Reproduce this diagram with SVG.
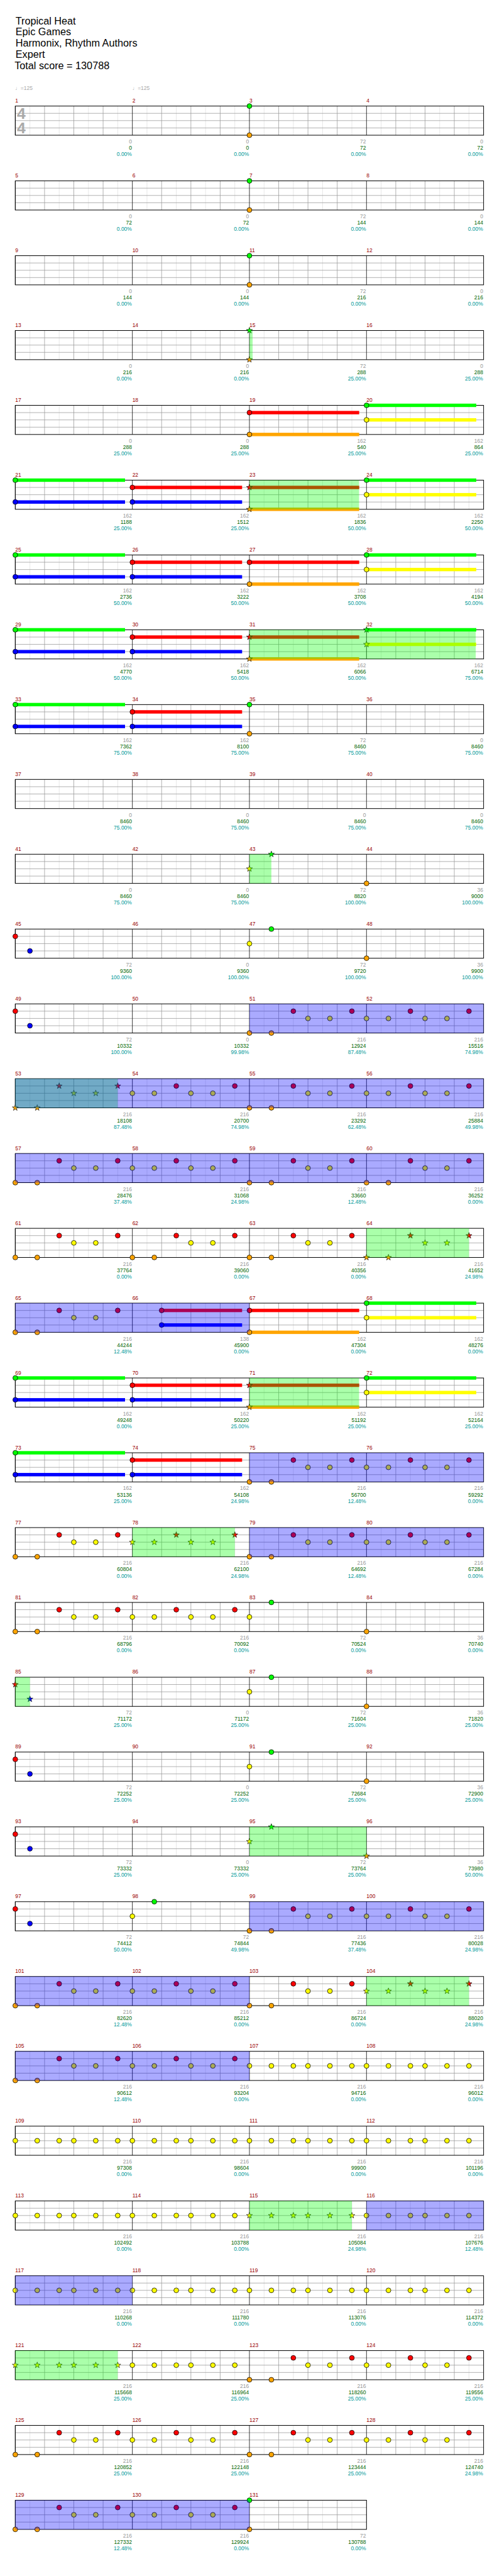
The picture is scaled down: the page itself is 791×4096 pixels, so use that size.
<svg xmlns="http://www.w3.org/2000/svg" xmlns:xlink="http://www.w3.org/1999/xlink" width="791" height="4096" viewBox="0 0 791 4096">
<defs>
<style>
.e{stroke:#e0e0e0;stroke-width:1;fill:none}
.q{stroke:#999;stroke-width:1;fill:none}
.k{stroke:#000;stroke-width:1;fill:none}
.bd{fill:none;stroke:#000;stroke-width:1.3}
.n{stroke:#000;stroke-width:1}
.st{stroke:#000;stroke-width:.8}
.og{fill:#0f0;fill-opacity:.333}
.ob{fill:#00f;fill-opacity:.333}
text{font-family:"Liberation Sans",Arial,"DejaVu Sans",sans-serif}
.ti{font-size:21px;fill:#000}
.mn{font-size:11px;fill:#900}
.sc{font-size:11px;text-anchor:end}
.t1{fill:#999}.t2{fill:#060}.t3{fill:#099}
.tp{font-size:11px;fill:#aaa}
.ts{font-size:32px;fill:#aaa;font-weight:bold}
</style>
<g id="m">
<path class="e" d="M30.15 0V60M90.45 0V60M150.75 0V60M211.05 0V60"/>
<path class="q" d="M60.3 0V60M120.6 0V60M180.9 0V60M0 15H241.2M0 30H241.2M0 45H241.2"/>
<path class="k" d="M0 0V60"/>
</g>
<g id="g4"><use href="#m" x="31.5"/><use href="#m" x="272.7"/><use href="#m" x="513.9"/><use href="#m" x="755.1"/><rect class="bd" x="31.5" y="0" width="964.8" height="60"/></g>
<g id="g3"><use href="#m" x="31.5"/><use href="#m" x="272.7"/><use href="#m" x="513.9"/><rect class="bd" x="31.5" y="0" width="723.6" height="60"/></g>
<circle id="G" class="n" r="5" fill="#0f0"/>
<circle id="R" class="n" r="5" fill="#f00"/>
<circle id="Y" class="n" r="5" fill="#ff0"/>
<circle id="B" class="n" r="5" fill="#00f"/>
<circle id="O" class="n" r="5" fill="#ffa500"/>
<path id="sG" class="st" fill="#0f0" d="M0-6.5L1.53-2.1L6.18-2.01L2.47.8L3.82 5.26L0 2.6L-3.82 5.26L-2.47.8L-6.18-2.01L-1.53-2.1Z"/>
<path id="sR" class="st" fill="#f00" d="M0-6.5L1.53-2.1L6.18-2.01L2.47.8L3.82 5.26L0 2.6L-3.82 5.26L-2.47.8L-6.18-2.01L-1.53-2.1Z"/>
<path id="sY" class="st" fill="#ff0" d="M0-6.5L1.53-2.1L6.18-2.01L2.47.8L3.82 5.26L0 2.6L-3.82 5.26L-2.47.8L-6.18-2.01L-1.53-2.1Z"/>
<path id="sB" class="st" fill="#00f" d="M0-6.5L1.53-2.1L6.18-2.01L2.47.8L3.82 5.26L0 2.6L-3.82 5.26L-2.47.8L-6.18-2.01L-1.53-2.1Z"/>
<path id="sO" class="st" fill="#ffa500" d="M0-6.5L1.53-2.1L6.18-2.01L2.47.8L3.82 5.26L0 2.6L-3.82 5.26L-2.47.8L-6.18-2.01L-1.53-2.1Z"/>
<rect id="zG" y="-3.5" width="226.1" height="7" fill="#0f0"/>
<rect id="zR" y="-3.5" width="226.1" height="7" fill="#f00"/>
<rect id="zY" y="-3.5" width="226.1" height="7" fill="#ff0"/>
<rect id="zB" y="-3.5" width="226.1" height="7" fill="#00f"/>
<rect id="zO" y="-3.5" width="226.1" height="7" fill="#ffa500"/>
<g id="pA"><use href="#O" y="60"/><use href="#O" x="45.2" y="60"/><use href="#R" x="90.45" y="15"/><use href="#Y" x="120.6" y="30"/><use href="#Y" x="165.8" y="30"/><use href="#R" x="211.05" y="15"/></g>
<g id="pB"><use href="#Y" y="30"/><use href="#Y" x="45.2" y="30"/><use href="#R" x="90.45" y="15"/><use href="#Y" x="120.6" y="30"/><use href="#Y" x="165.8" y="30"/><use href="#R" x="211.05" y="15"/></g>
<g id="pY"><use href="#Y" y="30"/><use href="#Y" x="45.2" y="30"/><use href="#Y" x="90.45" y="30"/><use href="#Y" x="120.6" y="30"/><use href="#Y" x="165.8" y="30"/><use href="#Y" x="211.05" y="30"/></g>
<g id="xA"><use href="#sO" y="60"/><use href="#sO" x="45.2" y="60"/><use href="#sR" x="90.45" y="15"/><use href="#sY" x="120.6" y="30"/><use href="#sY" x="165.8" y="30"/><use href="#sR" x="211.05" y="15"/></g>
<g id="xB"><use href="#sY" y="30"/><use href="#sY" x="45.2" y="30"/><use href="#sR" x="90.45" y="15"/><use href="#sY" x="120.6" y="30"/><use href="#sY" x="165.8" y="30"/><use href="#sR" x="211.05" y="15"/></g>
<g id="xY"><use href="#sY" y="30"/><use href="#sY" x="45.2" y="30"/><use href="#sY" x="90.45" y="30"/><use href="#sY" x="120.6" y="30"/><use href="#sY" x="165.8" y="30"/><use href="#sY" x="211.05" y="30"/></g>
<g id="cGB"><use href="#zG"/><use href="#zB" y="45"/><use href="#G"/><use href="#B" y="45"/></g>
<g id="cRB"><use href="#zR" y="15"/><use href="#zB" y="45"/><use href="#R" y="15"/><use href="#B" y="45"/></g>
<g id="cRO"><use href="#zR" y="15"/><use href="#zO" y="60"/><use href="#R" y="15"/><use href="#O" y="60"/></g>
<g id="cGY"><use href="#zG"/><use href="#zY" y="30"/><use href="#G"/><use href="#Y" y="30"/></g>
<g id="kRO"><use href="#zR" y="15"/><use href="#zO" y="60"/><use href="#sR" y="15"/><use href="#sO" y="60"/></g>
<g id="kGY"><use href="#zG"/><use href="#zY" y="30"/><use href="#sG"/><use href="#sY" y="30"/></g>
</defs>
<rect width="791" height="4096" fill="#fff"/>
<g transform="scale(0.7725)">
<g id="title" class="ti"><text x="32" y="50">Tropical Heat</text><text x="32" y="73">Epic Games</text><text x="32" y="96">Harmonix, Rhythm Authors</text><text x="32" y="119">Expert</text><text x="30" y="142">Total score = 130788</text></g>

<g id="row1" transform="translate(0,218.3)"><use href="#g4"/>
<text class="ts" x="35" y="26.7">4</text><text class="ts" x="35" y="56.7">4</text>
<text class="tp" x="31.5" y="-33">♩=125</text><text class="tp" x="272.7" y="-33">♩=125</text>
<use href="#G" x="513.9"/><use href="#O" x="513.9" y="60"/>
<g class="mn"><text x="31.5" y="-7">1</text><text x="272.7" y="-7">2</text><text x="513.9" y="-7">3</text><text x="755.1" y="-7">4</text></g>
<g class="sc"><g class="t1"><text x="271.7" y="77">0</text><text x="512.9" y="77">0</text><text x="754.1" y="77">72</text><text x="995.3" y="77">0</text></g><g class="t2"><text x="271.7" y="90">0</text><text x="512.9" y="90">0</text><text x="754.1" y="90">72</text><text x="995.3" y="90">72</text></g><g class="t3"><text x="271.7" y="103">0.00%</text><text x="512.9" y="103">0.00%</text><text x="754.1" y="103">0.00%</text><text x="995.3" y="103">0.00%</text></g></g>
</g>

<g id="row2" transform="translate(0,372.3)"><use href="#g4"/>
<use href="#G" x="513.9"/><use href="#O" x="513.9" y="60"/>
<g class="mn"><text x="31.5" y="-7">5</text><text x="272.7" y="-7">6</text><text x="513.9" y="-7">7</text><text x="755.1" y="-7">8</text></g>
<g class="sc"><g class="t1"><text x="271.7" y="77">0</text><text x="512.9" y="77">0</text><text x="754.1" y="77">72</text><text x="995.3" y="77">0</text></g><g class="t2"><text x="271.7" y="90">72</text><text x="512.9" y="90">72</text><text x="754.1" y="90">144</text><text x="995.3" y="90">144</text></g><g class="t3"><text x="271.7" y="103">0.00%</text><text x="512.9" y="103">0.00%</text><text x="754.1" y="103">0.00%</text><text x="995.3" y="103">0.00%</text></g></g>
</g>

<g id="row3" transform="translate(0,526.3)"><use href="#g4"/>
<use href="#G" x="513.9"/><use href="#O" x="513.9" y="60"/>
<g class="mn"><text x="31.5" y="-7">9</text><text x="272.7" y="-7">10</text><text x="513.9" y="-7">11</text><text x="755.1" y="-7">12</text></g>
<g class="sc"><g class="t1"><text x="271.7" y="77">0</text><text x="512.9" y="77">0</text><text x="754.1" y="77">72</text><text x="995.3" y="77">0</text></g><g class="t2"><text x="271.7" y="90">144</text><text x="512.9" y="90">144</text><text x="754.1" y="90">216</text><text x="995.3" y="90">216</text></g><g class="t3"><text x="271.7" y="103">0.00%</text><text x="512.9" y="103">0.00%</text><text x="754.1" y="103">0.00%</text><text x="995.3" y="103">0.00%</text></g></g>
</g>

<g id="row4" transform="translate(0,680.3)"><use href="#g4"/>
<use href="#sG" x="513.9"/><use href="#sO" x="513.9" y="60"/>
<rect class="og" x="513.9" y="0" width="6.6" height="60"/>
<g class="mn"><text x="31.5" y="-7">13</text><text x="272.7" y="-7">14</text><text x="513.9" y="-7">15</text><text x="755.1" y="-7">16</text></g>
<g class="sc"><g class="t1"><text x="271.7" y="77">0</text><text x="512.9" y="77">0</text><text x="754.1" y="77">72</text><text x="995.3" y="77">0</text></g><g class="t2"><text x="271.7" y="90">216</text><text x="512.9" y="90">216</text><text x="754.1" y="90">288</text><text x="995.3" y="90">288</text></g><g class="t3"><text x="271.7" y="103">0.00%</text><text x="512.9" y="103">0.00%</text><text x="754.1" y="103">25.00%</text><text x="995.3" y="103">25.00%</text></g></g>
</g>

<g id="row5" transform="translate(0,834.3)"><use href="#g4"/>
<use href="#cRO" x="513.9"/><use href="#cGY" x="755.1"/>
<g class="mn"><text x="31.5" y="-7">17</text><text x="272.7" y="-7">18</text><text x="513.9" y="-7">19</text><text x="755.1" y="-7">20</text></g>
<g class="sc"><g class="t1"><text x="271.7" y="77">0</text><text x="512.9" y="77">0</text><text x="754.1" y="77">162</text><text x="995.3" y="77">162</text></g><g class="t2"><text x="271.7" y="90">288</text><text x="512.9" y="90">288</text><text x="754.1" y="90">540</text><text x="995.3" y="90">864</text></g><g class="t3"><text x="271.7" y="103">25.00%</text><text x="512.9" y="103">25.00%</text><text x="754.1" y="103">25.00%</text><text x="995.3" y="103">25.00%</text></g></g>
</g>

<g id="row6" transform="translate(0,988.3)"><use href="#g4"/>
<use href="#cGB" x="31.5"/><use href="#cRB" x="272.7"/><use href="#kRO" x="513.9"/><use href="#cGY" x="755.1"/>
<rect class="og" x="513.9" y="0" width="225.9" height="60"/>
<g class="mn"><text x="31.5" y="-7">21</text><text x="272.7" y="-7">22</text><text x="513.9" y="-7">23</text><text x="755.1" y="-7">24</text></g>
<g class="sc"><g class="t1"><text x="271.7" y="77">162</text><text x="512.9" y="77">162</text><text x="754.1" y="77">162</text><text x="995.3" y="77">162</text></g><g class="t2"><text x="271.7" y="90">1188</text><text x="512.9" y="90">1512</text><text x="754.1" y="90">1836</text><text x="995.3" y="90">2250</text></g><g class="t3"><text x="271.7" y="103">25.00%</text><text x="512.9" y="103">25.00%</text><text x="754.1" y="103">50.00%</text><text x="995.3" y="103">50.00%</text></g></g>
</g>

<g id="row7" transform="translate(0,1142.3)"><use href="#g4"/>
<use href="#cGB" x="31.5"/><use href="#cRB" x="272.7"/><use href="#cRO" x="513.9"/><use href="#cGY" x="755.1"/>
<g class="mn"><text x="31.5" y="-7">25</text><text x="272.7" y="-7">26</text><text x="513.9" y="-7">27</text><text x="755.1" y="-7">28</text></g>
<g class="sc"><g class="t1"><text x="271.7" y="77">162</text><text x="512.9" y="77">162</text><text x="754.1" y="77">162</text><text x="995.3" y="77">162</text></g><g class="t2"><text x="271.7" y="90">2736</text><text x="512.9" y="90">3222</text><text x="754.1" y="90">3708</text><text x="995.3" y="90">4194</text></g><g class="t3"><text x="271.7" y="103">50.00%</text><text x="512.9" y="103">50.00%</text><text x="754.1" y="103">50.00%</text><text x="995.3" y="103">50.00%</text></g></g>
</g>

<g id="row8" transform="translate(0,1296.3)"><use href="#g4"/>
<use href="#cGB" x="31.5"/><use href="#cRB" x="272.7"/><use href="#kRO" x="513.9"/><use href="#kGY" x="755.1"/>
<rect class="og" x="513.9" y="0" width="466.3" height="60"/>
<g class="mn"><text x="31.5" y="-7">29</text><text x="272.7" y="-7">30</text><text x="513.9" y="-7">31</text><text x="755.1" y="-7">32</text></g>
<g class="sc"><g class="t1"><text x="271.7" y="77">162</text><text x="512.9" y="77">162</text><text x="754.1" y="77">162</text><text x="995.3" y="77">162</text></g><g class="t2"><text x="271.7" y="90">4770</text><text x="512.9" y="90">5418</text><text x="754.1" y="90">6066</text><text x="995.3" y="90">6714</text></g><g class="t3"><text x="271.7" y="103">50.00%</text><text x="512.9" y="103">50.00%</text><text x="754.1" y="103">50.00%</text><text x="995.3" y="103">75.00%</text></g></g>
</g>

<g id="row9" transform="translate(0,1450.3)"><use href="#g4"/>
<use href="#cGB" x="31.5"/><use href="#cRB" x="272.7"/><use href="#G" x="513.9"/><use href="#O" x="513.9" y="60"/>
<g class="mn"><text x="31.5" y="-7">33</text><text x="272.7" y="-7">34</text><text x="513.9" y="-7">35</text><text x="755.1" y="-7">36</text></g>
<g class="sc"><g class="t1"><text x="271.7" y="77">162</text><text x="512.9" y="77">162</text><text x="754.1" y="77">72</text><text x="995.3" y="77">0</text></g><g class="t2"><text x="271.7" y="90">7362</text><text x="512.9" y="90">8100</text><text x="754.1" y="90">8460</text><text x="995.3" y="90">8460</text></g><g class="t3"><text x="271.7" y="103">75.00%</text><text x="512.9" y="103">75.00%</text><text x="754.1" y="103">75.00%</text><text x="995.3" y="103">75.00%</text></g></g>
</g>

<g id="row10" transform="translate(0,1604.3)"><use href="#g4"/>
<g class="mn"><text x="31.5" y="-7">37</text><text x="272.7" y="-7">38</text><text x="513.9" y="-7">39</text><text x="755.1" y="-7">40</text></g>
<g class="sc"><g class="t1"><text x="271.7" y="77">0</text><text x="512.9" y="77">0</text><text x="754.1" y="77">0</text><text x="995.3" y="77">0</text></g><g class="t2"><text x="271.7" y="90">8460</text><text x="512.9" y="90">8460</text><text x="754.1" y="90">8460</text><text x="995.3" y="90">8460</text></g><g class="t3"><text x="271.7" y="103">75.00%</text><text x="512.9" y="103">75.00%</text><text x="754.1" y="103">75.00%</text><text x="995.3" y="103">75.00%</text></g></g>
</g>

<g id="row11" transform="translate(0,1758.3)"><use href="#g4"/>
<use href="#sY" x="513.9" y="30"/><use href="#sG" x="559.1"/><use href="#O" x="755.1" y="60"/>
<rect class="og" x="513.9" y="0" width="45.2" height="60"/>
<g class="mn"><text x="31.5" y="-7">41</text><text x="272.7" y="-7">42</text><text x="513.9" y="-7">43</text><text x="755.1" y="-7">44</text></g>
<g class="sc"><g class="t1"><text x="271.7" y="77">0</text><text x="512.9" y="77">0</text><text x="754.1" y="77">72</text><text x="995.3" y="77">36</text></g><g class="t2"><text x="271.7" y="90">8460</text><text x="512.9" y="90">8460</text><text x="754.1" y="90">8820</text><text x="995.3" y="90">9000</text></g><g class="t3"><text x="271.7" y="103">75.00%</text><text x="512.9" y="103">75.00%</text><text x="754.1" y="103">100.00%</text><text x="995.3" y="103">100.00%</text></g></g>
</g>

<g id="row12" transform="translate(0,1912.3)"><use href="#g4"/>
<use href="#R" x="31.5" y="15"/><use href="#B" x="61.65" y="45"/><use href="#Y" x="513.9" y="30"/><use href="#G" x="559.1"/><use href="#O" x="755.1" y="60"/>
<g class="mn"><text x="31.5" y="-7">45</text><text x="272.7" y="-7">46</text><text x="513.9" y="-7">47</text><text x="755.1" y="-7">48</text></g>
<g class="sc"><g class="t1"><text x="271.7" y="77">72</text><text x="512.9" y="77">0</text><text x="754.1" y="77">72</text><text x="995.3" y="77">36</text></g><g class="t2"><text x="271.7" y="90">9360</text><text x="512.9" y="90">9360</text><text x="754.1" y="90">9720</text><text x="995.3" y="90">9900</text></g><g class="t3"><text x="271.7" y="103">100.00%</text><text x="512.9" y="103">100.00%</text><text x="754.1" y="103">100.00%</text><text x="995.3" y="103">100.00%</text></g></g>
</g>

<g id="row13" transform="translate(0,2066.3)"><use href="#g4"/>
<use href="#R" x="31.5" y="15"/><use href="#B" x="61.65" y="45"/><use href="#pA" x="513.9"/><use href="#pB" x="755.1"/>
<rect class="ob" x="513.9" y="0" width="482.4" height="60"/>
<g class="mn"><text x="31.5" y="-7">49</text><text x="272.7" y="-7">50</text><text x="513.9" y="-7">51</text><text x="755.1" y="-7">52</text></g>
<g class="sc"><g class="t1"><text x="271.7" y="77">72</text><text x="512.9" y="77">0</text><text x="754.1" y="77">216</text><text x="995.3" y="77">216</text></g><g class="t2"><text x="271.7" y="90">10332</text><text x="512.9" y="90">10332</text><text x="754.1" y="90">12924</text><text x="995.3" y="90">15516</text></g><g class="t3"><text x="271.7" y="103">100.00%</text><text x="512.9" y="103">99.98%</text><text x="754.1" y="103">87.48%</text><text x="995.3" y="103">74.98%</text></g></g>
</g>

<g id="row14" transform="translate(0,2220.3)"><use href="#g4"/>
<use href="#xA" x="31.5"/><use href="#pB" x="272.7"/><use href="#pA" x="513.9"/><use href="#pB" x="755.1"/>
<rect class="og" x="31.5" y="0" width="211.05" height="60"/>
<rect class="ob" x="31.5" y="0" width="964.8" height="60"/>
<g class="mn"><text x="31.5" y="-7">53</text><text x="272.7" y="-7">54</text><text x="513.9" y="-7">55</text><text x="755.1" y="-7">56</text></g>
<g class="sc"><g class="t1"><text x="271.7" y="77">216</text><text x="512.9" y="77">216</text><text x="754.1" y="77">216</text><text x="995.3" y="77">216</text></g><g class="t2"><text x="271.7" y="90">18108</text><text x="512.9" y="90">20700</text><text x="754.1" y="90">23292</text><text x="995.3" y="90">25884</text></g><g class="t3"><text x="271.7" y="103">87.48%</text><text x="512.9" y="103">74.98%</text><text x="754.1" y="103">62.48%</text><text x="995.3" y="103">49.98%</text></g></g>
</g>

<g id="row15" transform="translate(0,2374.3)"><use href="#g4"/>
<use href="#pA" x="31.5"/><use href="#pB" x="272.7"/><use href="#pA" x="513.9"/><use href="#pA" x="755.1"/>
<rect class="ob" x="31.5" y="0" width="964.8" height="60"/>
<g class="mn"><text x="31.5" y="-7">57</text><text x="272.7" y="-7">58</text><text x="513.9" y="-7">59</text><text x="755.1" y="-7">60</text></g>
<g class="sc"><g class="t1"><text x="271.7" y="77">216</text><text x="512.9" y="77">216</text><text x="754.1" y="77">216</text><text x="995.3" y="77">216</text></g><g class="t2"><text x="271.7" y="90">28476</text><text x="512.9" y="90">31068</text><text x="754.1" y="90">33660</text><text x="995.3" y="90">36252</text></g><g class="t3"><text x="271.7" y="103">37.48%</text><text x="512.9" y="103">24.98%</text><text x="754.1" y="103">12.48%</text><text x="995.3" y="103">0.00%</text></g></g>
</g>

<g id="row16" transform="translate(0,2528.3)"><use href="#g4"/>
<use href="#pA" x="31.5"/><use href="#pA" x="272.7"/><use href="#pA" x="513.9"/><use href="#xA" x="755.1"/>
<rect class="og" x="755.1" y="0" width="211.05" height="60"/>
<g class="mn"><text x="31.5" y="-7">61</text><text x="272.7" y="-7">62</text><text x="513.9" y="-7">63</text><text x="755.1" y="-7">64</text></g>
<g class="sc"><g class="t1"><text x="271.7" y="77">216</text><text x="512.9" y="77">216</text><text x="754.1" y="77">216</text><text x="995.3" y="77">216</text></g><g class="t2"><text x="271.7" y="90">37764</text><text x="512.9" y="90">39060</text><text x="754.1" y="90">40356</text><text x="995.3" y="90">41652</text></g><g class="t3"><text x="271.7" y="103">0.00%</text><text x="512.9" y="103">0.00%</text><text x="754.1" y="103">0.00%</text><text x="995.3" y="103">24.98%</text></g></g>
</g>

<g id="row17" transform="translate(0,2682.3)"><use href="#g4"/>
<use href="#pA" x="31.5"/>
<rect x="333" y="11.5" width="165.8" height="7" fill="#f00"/><rect x="333" y="41.5" width="165.8" height="7" fill="#00f"/><use href="#R" x="333" y="15"/><use href="#B" x="333" y="45"/>
<use href="#cRO" x="513.9"/><use href="#cGY" x="755.1"/>
<rect class="ob" x="31.5" y="0" width="482.4" height="60"/>
<g class="mn"><text x="31.5" y="-7">65</text><text x="272.7" y="-7">66</text><text x="513.9" y="-7">67</text><text x="755.1" y="-7">68</text></g>
<g class="sc"><g class="t1"><text x="271.7" y="77">216</text><text x="512.9" y="77">138</text><text x="754.1" y="77">162</text><text x="995.3" y="77">162</text></g><g class="t2"><text x="271.7" y="90">44244</text><text x="512.9" y="90">45900</text><text x="754.1" y="90">47304</text><text x="995.3" y="90">48276</text></g><g class="t3"><text x="271.7" y="103">12.48%</text><text x="512.9" y="103">0.00%</text><text x="754.1" y="103">0.00%</text><text x="995.3" y="103">0.00%</text></g></g>
</g>

<g id="row18" transform="translate(0,2836.3)"><use href="#g4"/>
<use href="#cGB" x="31.5"/><use href="#cRB" x="272.7"/><use href="#kRO" x="513.9"/><use href="#cGY" x="755.1"/>
<rect class="og" x="513.9" y="0" width="225.9" height="60"/>
<g class="mn"><text x="31.5" y="-7">69</text><text x="272.7" y="-7">70</text><text x="513.9" y="-7">71</text><text x="755.1" y="-7">72</text></g>
<g class="sc"><g class="t1"><text x="271.7" y="77">162</text><text x="512.9" y="77">162</text><text x="754.1" y="77">162</text><text x="995.3" y="77">162</text></g><g class="t2"><text x="271.7" y="90">49248</text><text x="512.9" y="90">50220</text><text x="754.1" y="90">51192</text><text x="995.3" y="90">52164</text></g><g class="t3"><text x="271.7" y="103">0.00%</text><text x="512.9" y="103">25.00%</text><text x="754.1" y="103">25.00%</text><text x="995.3" y="103">25.00%</text></g></g>
</g>

<g id="row19" transform="translate(0,2990.3)"><use href="#g4"/>
<use href="#cGB" x="31.5"/><use href="#cRB" x="272.7"/><use href="#pA" x="513.9"/><use href="#pB" x="755.1"/>
<rect class="ob" x="513.9" y="0" width="482.4" height="60"/>
<g class="mn"><text x="31.5" y="-7">73</text><text x="272.7" y="-7">74</text><text x="513.9" y="-7">75</text><text x="755.1" y="-7">76</text></g>
<g class="sc"><g class="t1"><text x="271.7" y="77">162</text><text x="512.9" y="77">162</text><text x="754.1" y="77">216</text><text x="995.3" y="77">216</text></g><g class="t2"><text x="271.7" y="90">53136</text><text x="512.9" y="90">54108</text><text x="754.1" y="90">56700</text><text x="995.3" y="90">59292</text></g><g class="t3"><text x="271.7" y="103">25.00%</text><text x="512.9" y="103">24.98%</text><text x="754.1" y="103">12.48%</text><text x="995.3" y="103">0.00%</text></g></g>
</g>

<g id="row20" transform="translate(0,3144.3)"><use href="#g4"/>
<use href="#pA" x="31.5"/><use href="#xB" x="272.7"/><use href="#pA" x="513.9"/><use href="#pB" x="755.1"/>
<rect class="og" x="272.7" y="0" width="211.05" height="60"/>
<rect class="ob" x="513.9" y="0" width="482.4" height="60"/>
<g class="mn"><text x="31.5" y="-7">77</text><text x="272.7" y="-7">78</text><text x="513.9" y="-7">79</text><text x="755.1" y="-7">80</text></g>
<g class="sc"><g class="t1"><text x="271.7" y="77">216</text><text x="512.9" y="77">216</text><text x="754.1" y="77">216</text><text x="995.3" y="77">216</text></g><g class="t2"><text x="271.7" y="90">60804</text><text x="512.9" y="90">62100</text><text x="754.1" y="90">64692</text><text x="995.3" y="90">67284</text></g><g class="t3"><text x="271.7" y="103">0.00%</text><text x="512.9" y="103">24.98%</text><text x="754.1" y="103">12.48%</text><text x="995.3" y="103">0.00%</text></g></g>
</g>

<g id="row21" transform="translate(0,3298.3)"><use href="#g4"/>
<use href="#pA" x="31.5"/><use href="#pB" x="272.7"/><use href="#Y" x="513.9" y="30"/><use href="#G" x="559.1"/><use href="#O" x="755.1" y="60"/>
<g class="mn"><text x="31.5" y="-7">81</text><text x="272.7" y="-7">82</text><text x="513.9" y="-7">83</text><text x="755.1" y="-7">84</text></g>
<g class="sc"><g class="t1"><text x="271.7" y="77">216</text><text x="512.9" y="77">216</text><text x="754.1" y="77">72</text><text x="995.3" y="77">36</text></g><g class="t2"><text x="271.7" y="90">68796</text><text x="512.9" y="90">70092</text><text x="754.1" y="90">70524</text><text x="995.3" y="90">70740</text></g><g class="t3"><text x="271.7" y="103">0.00%</text><text x="512.9" y="103">0.00%</text><text x="754.1" y="103">0.00%</text><text x="995.3" y="103">0.00%</text></g></g>
</g>

<g id="row22" transform="translate(0,3452.3)"><use href="#g4"/>
<use href="#sR" x="31.5" y="15"/><use href="#sB" x="61.65" y="45"/><use href="#Y" x="513.9" y="30"/><use href="#G" x="559.1"/><use href="#O" x="755.1" y="60"/>
<rect class="og" x="31.5" y="0" width="30.15" height="60"/>
<g class="mn"><text x="31.5" y="-7">85</text><text x="272.7" y="-7">86</text><text x="513.9" y="-7">87</text><text x="755.1" y="-7">88</text></g>
<g class="sc"><g class="t1"><text x="271.7" y="77">72</text><text x="512.9" y="77">0</text><text x="754.1" y="77">72</text><text x="995.3" y="77">36</text></g><g class="t2"><text x="271.7" y="90">71172</text><text x="512.9" y="90">71172</text><text x="754.1" y="90">71604</text><text x="995.3" y="90">71820</text></g><g class="t3"><text x="271.7" y="103">25.00%</text><text x="512.9" y="103">25.00%</text><text x="754.1" y="103">25.00%</text><text x="995.3" y="103">25.00%</text></g></g>
</g>

<g id="row23" transform="translate(0,3606.3)"><use href="#g4"/>
<use href="#R" x="31.5" y="15"/><use href="#B" x="61.65" y="45"/><use href="#Y" x="513.9" y="30"/><use href="#G" x="559.1"/><use href="#O" x="755.1" y="60"/>
<g class="mn"><text x="31.5" y="-7">89</text><text x="272.7" y="-7">90</text><text x="513.9" y="-7">91</text><text x="755.1" y="-7">92</text></g>
<g class="sc"><g class="t1"><text x="271.7" y="77">72</text><text x="512.9" y="77">0</text><text x="754.1" y="77">72</text><text x="995.3" y="77">36</text></g><g class="t2"><text x="271.7" y="90">72252</text><text x="512.9" y="90">72252</text><text x="754.1" y="90">72684</text><text x="995.3" y="90">72900</text></g><g class="t3"><text x="271.7" y="103">25.00%</text><text x="512.9" y="103">25.00%</text><text x="754.1" y="103">25.00%</text><text x="995.3" y="103">25.00%</text></g></g>
</g>

<g id="row24" transform="translate(0,3760.3)"><use href="#g4"/>
<use href="#R" x="31.5" y="15"/><use href="#B" x="61.65" y="45"/><use href="#sY" x="513.9" y="30"/><use href="#sG" x="559.1"/><use href="#sO" x="755.1" y="60"/>
<rect class="og" x="513.9" y="0" width="241.2" height="60"/>
<g class="mn"><text x="31.5" y="-7">93</text><text x="272.7" y="-7">94</text><text x="513.9" y="-7">95</text><text x="755.1" y="-7">96</text></g>
<g class="sc"><g class="t1"><text x="271.7" y="77">72</text><text x="512.9" y="77">0</text><text x="754.1" y="77">72</text><text x="995.3" y="77">36</text></g><g class="t2"><text x="271.7" y="90">73332</text><text x="512.9" y="90">73332</text><text x="754.1" y="90">73764</text><text x="995.3" y="90">73980</text></g><g class="t3"><text x="271.7" y="103">25.00%</text><text x="512.9" y="103">25.00%</text><text x="754.1" y="103">25.00%</text><text x="995.3" y="103">50.00%</text></g></g>
</g>

<g id="row25" transform="translate(0,3914.3)"><use href="#g4"/>
<use href="#R" x="31.5" y="15"/><use href="#B" x="61.65" y="45"/><use href="#Y" x="272.7" y="30"/><use href="#G" x="317.9"/><use href="#pA" x="513.9"/><use href="#pB" x="755.1"/>
<rect class="ob" x="513.9" y="0" width="482.4" height="60"/>
<g class="mn"><text x="31.5" y="-7">97</text><text x="272.7" y="-7">98</text><text x="513.9" y="-7">99</text><text x="755.1" y="-7">100</text></g>
<g class="sc"><g class="t1"><text x="271.7" y="77">72</text><text x="512.9" y="77">72</text><text x="754.1" y="77">216</text><text x="995.3" y="77">216</text></g><g class="t2"><text x="271.7" y="90">74412</text><text x="512.9" y="90">74844</text><text x="754.1" y="90">77436</text><text x="995.3" y="90">80028</text></g><g class="t3"><text x="271.7" y="103">50.00%</text><text x="512.9" y="103">49.98%</text><text x="754.1" y="103">37.48%</text><text x="995.3" y="103">24.98%</text></g></g>
</g>

<g id="row26" transform="translate(0,4068.3)"><use href="#g4"/>
<use href="#pA" x="31.5"/><use href="#pB" x="272.7"/><use href="#pA" x="513.9"/><use href="#xB" x="755.1"/>
<rect class="ob" x="31.5" y="0" width="482.4" height="60"/>
<rect class="og" x="755.1" y="0" width="211.05" height="60"/>
<g class="mn"><text x="31.5" y="-7">101</text><text x="272.7" y="-7">102</text><text x="513.9" y="-7">103</text><text x="755.1" y="-7">104</text></g>
<g class="sc"><g class="t1"><text x="271.7" y="77">216</text><text x="512.9" y="77">216</text><text x="754.1" y="77">216</text><text x="995.3" y="77">216</text></g><g class="t2"><text x="271.7" y="90">82620</text><text x="512.9" y="90">85212</text><text x="754.1" y="90">86724</text><text x="995.3" y="90">88020</text></g><g class="t3"><text x="271.7" y="103">12.48%</text><text x="512.9" y="103">0.00%</text><text x="754.1" y="103">0.00%</text><text x="995.3" y="103">24.98%</text></g></g>
</g>

<g id="row27" transform="translate(0,4222.3)"><use href="#g4"/>
<use href="#pA" x="31.5"/><use href="#pB" x="272.7"/><use href="#pY" x="513.9"/><use href="#pY" x="755.1"/>
<rect class="ob" x="31.5" y="0" width="482.4" height="60"/>
<g class="mn"><text x="31.5" y="-7">105</text><text x="272.7" y="-7">106</text><text x="513.9" y="-7">107</text><text x="755.1" y="-7">108</text></g>
<g class="sc"><g class="t1"><text x="271.7" y="77">216</text><text x="512.9" y="77">216</text><text x="754.1" y="77">216</text><text x="995.3" y="77">216</text></g><g class="t2"><text x="271.7" y="90">90612</text><text x="512.9" y="90">93204</text><text x="754.1" y="90">94716</text><text x="995.3" y="90">96012</text></g><g class="t3"><text x="271.7" y="103">12.48%</text><text x="512.9" y="103">0.00%</text><text x="754.1" y="103">0.00%</text><text x="995.3" y="103">0.00%</text></g></g>
</g>

<g id="row28" transform="translate(0,4376.3)"><use href="#g4"/>
<use href="#pY" x="31.5"/><use href="#pY" x="272.7"/><use href="#pY" x="513.9"/><use href="#pY" x="755.1"/>
<g class="mn"><text x="31.5" y="-7">109</text><text x="272.7" y="-7">110</text><text x="513.9" y="-7">111</text><text x="755.1" y="-7">112</text></g>
<g class="sc"><g class="t1"><text x="271.7" y="77">216</text><text x="512.9" y="77">216</text><text x="754.1" y="77">216</text><text x="995.3" y="77">216</text></g><g class="t2"><text x="271.7" y="90">97308</text><text x="512.9" y="90">98604</text><text x="754.1" y="90">99900</text><text x="995.3" y="90">101196</text></g><g class="t3"><text x="271.7" y="103">0.00%</text><text x="512.9" y="103">0.00%</text><text x="754.1" y="103">0.00%</text><text x="995.3" y="103">0.00%</text></g></g>
</g>

<g id="row29" transform="translate(0,4530.3)"><use href="#g4"/>
<use href="#pY" x="31.5"/><use href="#pY" x="272.7"/><use href="#xY" x="513.9"/><use href="#pY" x="755.1"/>
<rect class="og" x="513.9" y="0" width="211.05" height="60"/>
<rect class="ob" x="755.1" y="0" width="241.2" height="60"/>
<g class="mn"><text x="31.5" y="-7">113</text><text x="272.7" y="-7">114</text><text x="513.9" y="-7">115</text><text x="755.1" y="-7">116</text></g>
<g class="sc"><g class="t1"><text x="271.7" y="77">216</text><text x="512.9" y="77">216</text><text x="754.1" y="77">216</text><text x="995.3" y="77">216</text></g><g class="t2"><text x="271.7" y="90">102492</text><text x="512.9" y="90">103788</text><text x="754.1" y="90">105084</text><text x="995.3" y="90">107676</text></g><g class="t3"><text x="271.7" y="103">0.00%</text><text x="512.9" y="103">0.00%</text><text x="754.1" y="103">24.98%</text><text x="995.3" y="103">12.48%</text></g></g>
</g>

<g id="row30" transform="translate(0,4684.3)"><use href="#g4"/>
<use href="#pY" x="31.5"/><use href="#pY" x="272.7"/><use href="#pY" x="513.9"/><use href="#pY" x="755.1"/>
<rect class="ob" x="31.5" y="0" width="241.2" height="60"/>
<g class="mn"><text x="31.5" y="-7">117</text><text x="272.7" y="-7">118</text><text x="513.9" y="-7">119</text><text x="755.1" y="-7">120</text></g>
<g class="sc"><g class="t1"><text x="271.7" y="77">216</text><text x="512.9" y="77">216</text><text x="754.1" y="77">216</text><text x="995.3" y="77">216</text></g><g class="t2"><text x="271.7" y="90">110268</text><text x="512.9" y="90">111780</text><text x="754.1" y="90">113076</text><text x="995.3" y="90">114372</text></g><g class="t3"><text x="271.7" y="103">0.00%</text><text x="512.9" y="103">0.00%</text><text x="754.1" y="103">0.00%</text><text x="995.3" y="103">0.00%</text></g></g>
</g>

<g id="row31" transform="translate(0,4838.3)"><use href="#g4"/>
<use href="#xY" x="31.5"/><use href="#pY" x="272.7"/><use href="#pA" x="513.9"/><use href="#pB" x="755.1"/>
<rect class="og" x="31.5" y="0" width="211.05" height="60"/>
<g class="mn"><text x="31.5" y="-7">121</text><text x="272.7" y="-7">122</text><text x="513.9" y="-7">123</text><text x="755.1" y="-7">124</text></g>
<g class="sc"><g class="t1"><text x="271.7" y="77">216</text><text x="512.9" y="77">216</text><text x="754.1" y="77">216</text><text x="995.3" y="77">216</text></g><g class="t2"><text x="271.7" y="90">115668</text><text x="512.9" y="90">116964</text><text x="754.1" y="90">118260</text><text x="995.3" y="90">119556</text></g><g class="t3"><text x="271.7" y="103">25.00%</text><text x="512.9" y="103">25.00%</text><text x="754.1" y="103">25.00%</text><text x="995.3" y="103">25.00%</text></g></g>
</g>

<g id="row32" transform="translate(0,4992.3)"><use href="#g4"/>
<use href="#pA" x="31.5"/><use href="#pB" x="272.7"/><use href="#pA" x="513.9"/><use href="#pB" x="755.1"/>
<g class="mn"><text x="31.5" y="-7">125</text><text x="272.7" y="-7">126</text><text x="513.9" y="-7">127</text><text x="755.1" y="-7">128</text></g>
<g class="sc"><g class="t1"><text x="271.7" y="77">216</text><text x="512.9" y="77">216</text><text x="754.1" y="77">216</text><text x="995.3" y="77">216</text></g><g class="t2"><text x="271.7" y="90">120852</text><text x="512.9" y="90">122148</text><text x="754.1" y="90">123444</text><text x="995.3" y="90">124740</text></g><g class="t3"><text x="271.7" y="103">25.00%</text><text x="512.9" y="103">25.00%</text><text x="754.1" y="103">25.00%</text><text x="995.3" y="103">24.98%</text></g></g>
</g>

<g id="row33" transform="translate(0,5146.3)"><use href="#g3"/>
<use href="#pA" x="31.5"/><use href="#pB" x="272.7"/><use href="#G" x="513.9"/><use href="#O" x="513.9" y="60"/>
<rect class="ob" x="31.5" y="0" width="482.4" height="60"/>
<g class="mn"><text x="31.5" y="-7">129</text><text x="272.7" y="-7">130</text><text x="513.9" y="-7">131</text></g>
<g class="sc"><g class="t1"><text x="271.7" y="77">216</text><text x="512.9" y="77">216</text><text x="754.1" y="77">72</text></g><g class="t2"><text x="271.7" y="90">127332</text><text x="512.9" y="90">129924</text><text x="754.1" y="90">130788</text></g><g class="t3"><text x="271.7" y="103">12.48%</text><text x="512.9" y="103">0.00%</text><text x="754.1" y="103">0.00%</text></g></g>
</g>
</g>
</svg>
